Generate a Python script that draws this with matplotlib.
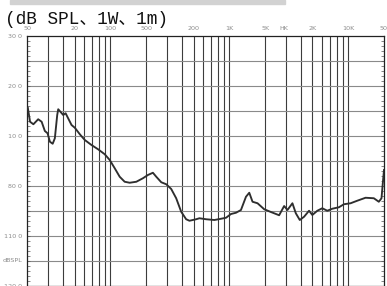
import matplotlib
matplotlib.use("Agg")
import matplotlib.pyplot as plt
from matplotlib.patches import Rectangle

# response curve (Hz, dB)
freq = [20.2, 21.1, 22.5, 24.7, 26.4, 28.1, 29.6, 31.0, 32.7, 34.1,
        35.7, 36.4, 38.3, 40.1, 42.0, 44.1, 47.1, 50.2, 55.3, 60.9,
        69.3, 78.7, 89.6, 98.7, 108.7, 119.7, 131.8, 145.2, 165.2, 187.7,
        206.7, 227.7, 243.1, 267.7, 294.8, 324.7, 357.5, 393.8, 433.6, 462.2,
        526.0, 560.7, 637.9, 748.9, 852.0, 938.6, 1033, 1138, 1253, 1381,
        1472, 1568, 1727, 1966, 2237, 2625, 2892, 3083, 3395, 3625,
        3915, 4253, 4685, 4993, 5498, 6055, 6668, 7345, 8358, 9204,
        10476, 11897, 13992, 16428, 18089, 19055, 19543, 20000]
spl = [91.3, 85.7, 84.7, 86.7, 85.7, 82.0, 81.1, 77.7, 76.9, 79.1,
       88.4, 90.7, 89.5, 88.4, 89.1, 87.1, 84.4, 83.3, 80.7, 78.4,
       76.4, 74.7, 72.7, 70.4, 67.1, 63.7, 61.7, 61.3, 61.7, 63.1,
       64.4, 65.3, 63.7, 61.5, 60.7, 58.8, 55.1, 49.7, 46.7, 46.1,
       46.7, 47.1, 46.7, 46.4, 46.9, 47.3, 48.8, 49.3, 50.4, 55.7,
       57.3, 53.7, 53.1, 50.7, 49.6, 48.3, 52.0, 50.4, 53.1, 49.1,
       46.4, 47.7, 50.1, 48.4, 50.1, 51.1, 50.1, 50.9, 51.5, 52.7,
       53.1, 54.1, 55.3, 55.1, 53.7, 55.1, 61.1, 66.4]

grid_freqs = [30, 40, 50, 60, 70, 80, 90, 100,
              200, 300, 400, 500, 600, 700, 800, 900, 1000,
              2000, 3000, 4000, 5000, 6000, 7000, 8000, 9000, 10000]

xlabel_pos = [20, 50, 100, 200, 500, 1000, 2000, 2900, 5000, 10000, 20000]
xlabel_txt = ["50", "20", "100", "500", "200", "1K", "5K", "HK", "2K", "10K", "50"]

ylabel_pos = [120, 100, 80, 60, 40, 30, 20]
ylabel_txt = ["30 0", "20 0", "10 0", "80 0", "110 0", "dBSPL", "120 0"]

fig = plt.figure(figsize=(3.87, 2.86), dpi=100)
ax = fig.add_axes([27.3 / 387, 0.0, (384 - 27.3) / 387, 250 / 286])
ax.set_xscale("log")
ax.set_xlim(20, 20000)
ax.set_ylim(20, 120)

for f in grid_freqs:
    ax.axvline(f, color="#3c3c3c", lw=0.8, zorder=1)
for v in range(30, 120, 10):
    ax.axhline(v, color="#8a8a8a", lw=0.8, zorder=1)

ax.plot(freq, spl, color="#2e2e2e", lw=1.35, zorder=3)

ax.set_xticks([])
ax.set_xticks([], minor=True)
ax.set_yticks([])
ax.set_yticks(range(20, 121, 2), minor=True)
ax.tick_params(axis="y", which="minor", direction="in", length=2.5,
               width=0.5, color="#555555", left=True, right=True)
for s in ax.spines.values():
    s.set_color("#222222")
    s.set_linewidth(0.9)

for p, t in zip(xlabel_pos, xlabel_txt):
    ax.text(p, 1.018, t, transform=ax.get_xaxis_transform(), ha="center",
            va="bottom", fontsize=4.6, color="#8c8c8c")
for p, t in zip(ylabel_pos, ylabel_txt):
    ax.text(-0.015, p, t, transform=ax.get_yaxis_transform(), ha="right",
            va="center", fontsize=4.6, color="#8c8c8c")

fig.patches.append(Rectangle((10 / 387, 1 - 3.5 / 286), 275 / 387, 3.5 / 286,
                             transform=fig.transFigure, color="#d2d2d2"))
fig.text(5 / 387, 1 - 24 / 286, "(dB SPL、1W、1m)", fontsize=12.8,
         family=["Liberation Mono", "Noto Sans CJK SC"], color="#111111",
         va="baseline", ha="left")

fig.savefig("out.png", dpi=100)
